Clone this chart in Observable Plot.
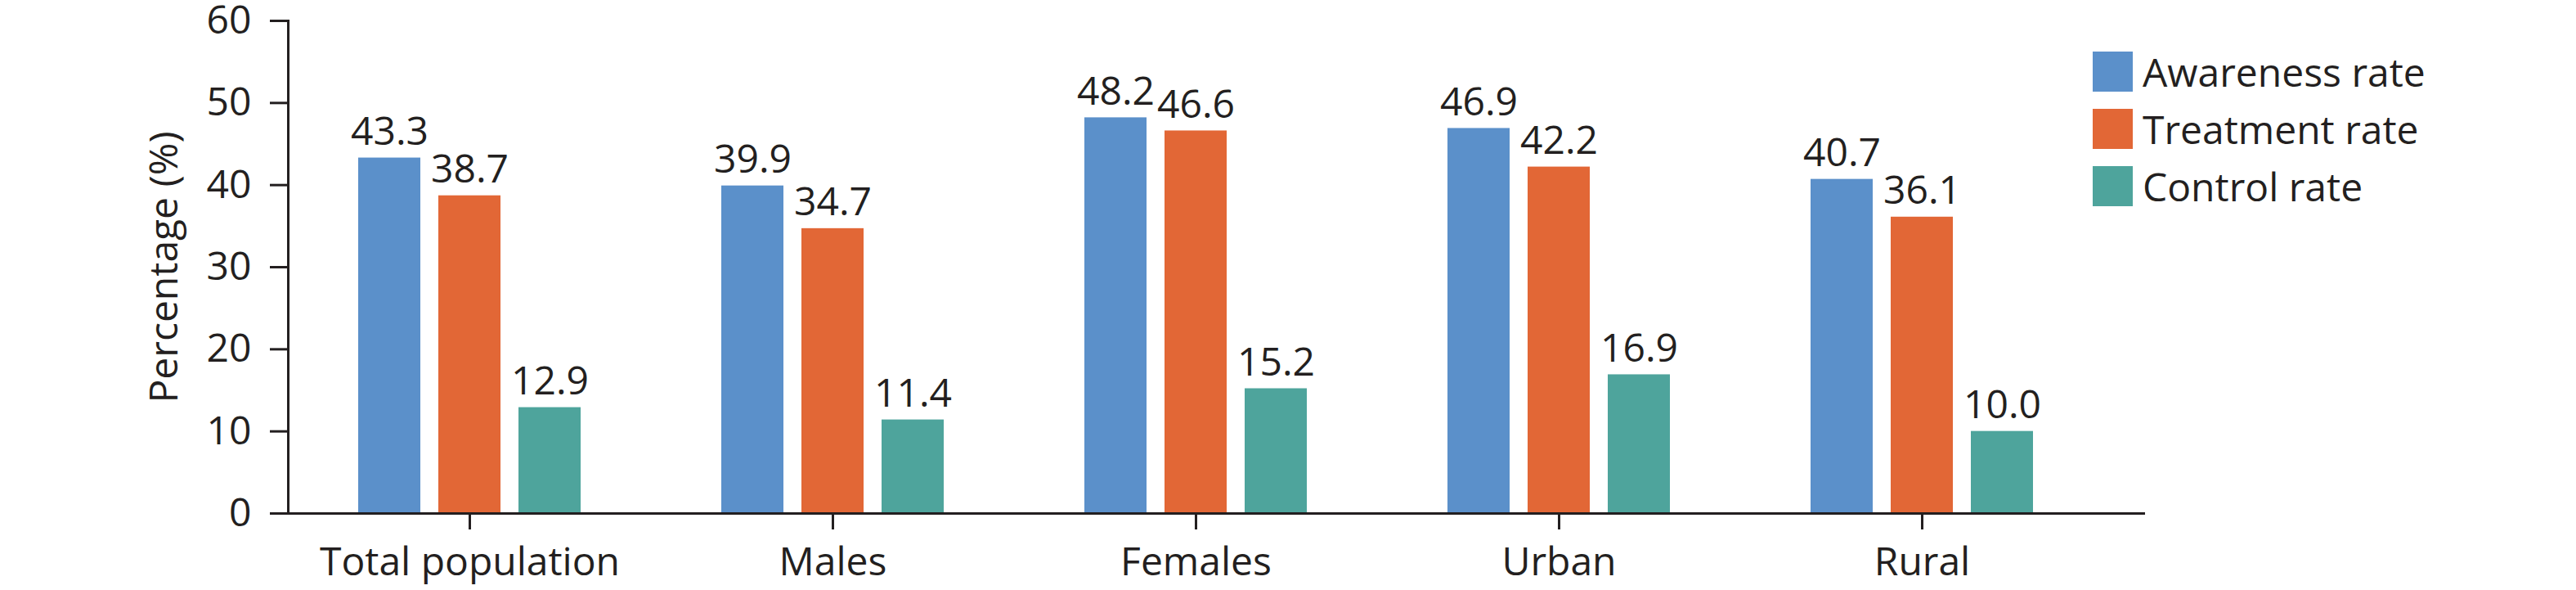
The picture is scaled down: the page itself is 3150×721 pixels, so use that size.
<!DOCTYPE html>
<html>
<head>
<meta charset="utf-8">
<script src="https://cdn.jsdelivr.net/npm/d3@7"></script>
<script src="https://cdn.jsdelivr.net/npm/@observablehq/plot@0.6"></script>
<style>
  html, body { margin: 0; padding: 0; background: #fff; }
  #chart { position: relative; width: 3150px; height: 721px; font-family: "Open Sans", sans-serif; color: #231f20; }
  #legend { position: absolute; left: 2559px; top: 63px; width: 560px; }
  .lg-swatch { padding-bottom: 21px !important; margin: 0 !important; }
  .lg-swatch svg { margin-right: 12px !important; }
  .lg-swatch-label, .lg-swatch span { line-height: 49px; overflow: visible !important; text-overflow: clip !important; }
</style>
</head>
<body>
<div id="chart"><div id="legend"></div></div>
<script>
const categories = ["Total population", "Males", "Females", "Urban", "Rural"];
const seriesNames = ["Awareness rate", "Treatment rate", "Control rate"];
const awareness = [43.3, 39.9, 48.2, 46.9, 40.7];
const treatment = [38.7, 34.7, 46.6, 42.2, 36.1];
const control = [12.9, 11.4, 15.2, 16.9, 10.0];
const colors = ["#5b90ca", "#e26736", "#4ea49c"];
const yTicks = [0, 10, 20, 30, 40, 50, 60];

const seriesValues = [awareness, treatment, control];
const data = categories.flatMap((c, i) =>
  seriesNames.map((s, j) => ({category: c, series: s, value: seriesValues[j][i]}))
);
const ink = "#231f20";

const plot = Plot.plot({
  width: 3150,
  height: 721,
  marginLeft: 351,
  marginRight: 578,
  marginTop: 25,
  marginBottom: 94,
  style: {fontFamily: "Open Sans", fontSize: "48px", color: ink, background: "white", overflow: "visible"},
  fx: {domain: categories, paddingInner: 0, paddingOuter: 0, label: null},
  x: {domain: seriesNames, paddingInner: 0.2245, paddingOuter: 0.875, axis: null},
  y: {domain: [0, 60]},
  color: {domain: seriesNames, range: colors},
  marks: [
    Plot.barY(data, {fx: "category", x: "series", y: "value", fill: "series"}),
    Plot.text(data, {fx: "category", x: "series", y: "value", text: d => d.value.toFixed(1),
      lineAnchor: "bottom", dy: -16, fill: ink, fontSize: 48}),
    Plot.ruleY([0], {stroke: ink, strokeWidth: 3}),
    Plot.ruleY([{category: "Rural", value: 0}], {fx: "category", y: "value", insetRight: -51, stroke: ink, strokeWidth: 3}),
    Plot.frame({anchor: "left", facetAnchor: "left", stroke: ink, strokeWidth: 3}),
    Plot.axisY({ticks: yTicks, tickSize: 22, tickPadding: 23, tickFormat: d => String(d),
      label: "Percentage (%)", labelAnchor: "center", labelArrow: "none", labelOffset: 170,
      strokeWidth: 3, stroke: ink, fill: ink, fontSize: 48}),
    Plot.axisFx({anchor: "bottom", tickSize: 20, tickPadding: 21, label: null, strokeWidth: 3, stroke: ink, fill: ink, fontSize: 48})
  ]
});
document.getElementById("chart").insertBefore(plot, document.getElementById("legend"));

const legend = Plot.legend({
  color: {domain: seriesNames, range: colors},
  legend: "swatches",
  columns: 1,
  swatchSize: 49,
  className: "lg",
  style: {fontFamily: "Open Sans", fontSize: "48px", color: ink}
});
document.getElementById("legend").appendChild(legend);
</script>
</body>
</html>
